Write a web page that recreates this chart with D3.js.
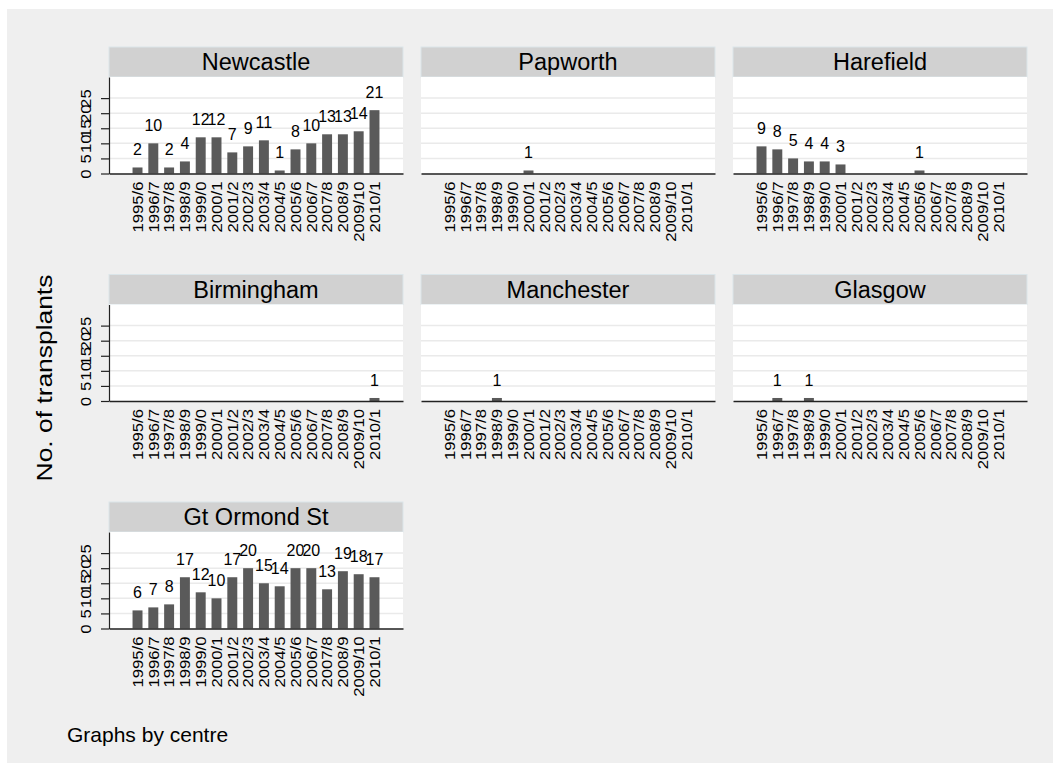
<!DOCTYPE html>
<html>
<head>
<meta charset="utf-8">
<script src="https://cdn.jsdelivr.net/npm/d3@7"></script>
<style>
  html, body { margin: 0; padding: 0; background: #ffffff; }
  svg { display: block; }
  text { font-family: "Liberation Sans", Arial, Helvetica, sans-serif; fill: #000; }
</style>
</head>
<body>
<svg id="chart" width="1053" height="771"></svg>
<script>
// ---- data ----
const periods = ["1995/6","1996/7","1997/8","1998/9","1999/0","2000/1","2001/2","2002/3",
                 "2003/4","2004/5","2005/6","2006/7","2007/8","2008/9","2009/10","2010/1"];
const centres = ["Newcastle","Papworth","Harefield","Birmingham","Manchester","Glasgow","Gt Ormond St"];
const newcastle  = [2,10,2,4,12,12,7,9,11,1,8,10,13,13,14,21];
const papworth   = [null,null,null,null,null,1,null,null,null,null,null,null,null,null,null,null];
const harefield  = [9,8,5,4,4,3,null,null,null,null,1,null,null,null,null,null];
const birmingham = [null,null,null,null,null,null,null,null,null,null,null,null,null,null,null,1];
const manchester = [null,null,null,1,null,null,null,null,null,null,null,null,null,null,null,null];
const glasgow    = [null,1,null,1,null,null,null,null,null,null,null,null,null,null,null,null];
const gtOrmondSt = [6,7,8,17,12,10,17,20,15,14,20,20,13,19,18,17];
const seriesList = [newcastle, papworth, harefield, birmingham, manchester, glasgow, gtOrmondSt];
const yTicks = [0,5,10,15,20,25];
const yTitle = "No. of transplants";
const note = "Graphs by centre";

// ---- layout ----
const svg = d3.select("#chart");
svg.append("rect").attr("x", 7).attr("y", 9).attr("width", 1046).attr("height", 754).attr("fill", "#efefef");

const colX = [109, 421, 733];
const pw = 294;
const stripTop0 = 47, rowPitch = 227.5, stripH = 30, plotH = 96.5;
const rotStretch = 1.15;   // rotated labels are elongated along their length

const x = d3.scaleBand().domain(periods).range([0, pw]).paddingInner(0.37).paddingOuter(1.49);
const y = d3.scaleLinear().domain([0, 32]).range([plotH, 0]);

centres.forEach((name, i) => {
  const col = i % 3, row = Math.floor(i / 3);
  const px = colX[col];
  const sTop = stripTop0 + row * rowPitch;
  const pTop = sTop + stripH;
  const g = svg.append("g");

  // strip
  g.append("rect").attr("x", px).attr("y", sTop).attr("width", pw).attr("height", stripH)
    .attr("fill", "#d1d1d1").attr("stroke", "#dbe5e9").attr("stroke-width", 1);
  g.append("text").attr("x", px + pw / 2).attr("y", sTop + stripH / 2).attr("dy", "0.36em")
    .attr("text-anchor", "middle").attr("font-size", 23.5).text(name);

  const p = g.append("g").attr("transform", `translate(${px},${pTop})`);
  p.append("rect").attr("width", pw).attr("height", plotH).attr("fill", "#ffffff");

  // grid lines
  p.selectAll(".grid").data(yTicks.filter(t => t > 0)).enter().append("line")
    .attr("x1", 0).attr("x2", pw).attr("y1", d => y(d)).attr("y2", d => y(d))
    .attr("stroke", "#eaeaea").attr("stroke-width", 1.5);

  const vals = seriesList[i];
  const data = periods.map((pd, k) => ({ p: pd, v: vals[k] })).filter(d => d.v !== null);

  p.selectAll(".bar").data(data).enter().append("rect")
    .attr("x", d => x(d.p)).attr("width", x.bandwidth())
    .attr("y", d => y(d.v)).attr("height", d => plotH - y(d.v))
    .attr("fill", "#5a5a5a");

  p.selectAll(".lbl").data(data).enter().append("text")
    .attr("x", d => x(d.p) + x.bandwidth() / 2).attr("y", d => y(d.v) - 12)
    .attr("text-anchor", "middle").attr("font-size", 16).text(d => d.v);

  // x axis
  const xa = p.append("g").attr("transform", `translate(0,${plotH})`)
    .call(d3.axisBottom(x).tickSize(0).tickPadding(0));
  xa.select(".domain").attr("stroke", "#222").attr("stroke-width", 1.6);
  xa.selectAll("text")
    .attr("font-size", 14.5).attr("fill", "#000")
    .attr("text-anchor", "end")
    .attr("transform", `rotate(-90) scale(${rotStretch},1)`)
    .attr("x", -8 / rotStretch).attr("y", 0).attr("dy", "0.36em");

  // y axis on first column
  if (col === 0) {
    const ya = p.append("g").call(d3.axisLeft(y).tickValues(yTicks).tickSize(8).tickPadding(0).tickSizeOuter(0));
    ya.select(".domain").attr("stroke", "#222").attr("stroke-width", 1.2);
    ya.selectAll(".tick line").attr("stroke", "#222").attr("stroke-width", 1.2);
    ya.selectAll("text").attr("font-size", 14.5).attr("fill", "#000")
      .attr("text-anchor", "middle").attr("transform", `rotate(-90) scale(${rotStretch},1)`)
      .attr("x", 0).attr("y", -18).attr("dy", "0");
  }
});

// y title
svg.append("text").attr("transform", "translate(52,378) rotate(-90) scale(1.2,1)")
  .attr("text-anchor", "middle").attr("font-size", 22).text(yTitle);

// note
svg.append("text").attr("x", 67).attr("y", 742).attr("font-size", 21).text(note);
</script>
</body>
</html>
